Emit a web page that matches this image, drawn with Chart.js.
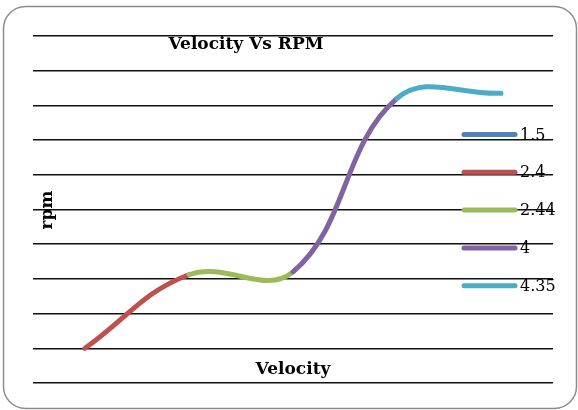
<!DOCTYPE html>
<html>
<head>
<meta charset="utf-8">
<script src="https://cdn.jsdelivr.net/npm/chart.js@4"></script>
<style>
  html, body { margin: 0; padding: 0; background: #fff; }
  #wrap { width: 578px; height: 410px; }
</style>
</head>
<body>
<div id="wrap"><canvas id="myChart" width="578" height="410"></canvas></div>
<script>
// velocity categories (shown in legend) and rpm values in gridline units
const categories = ['1.5', '2.4', '2.44', '4', '4.35'];
const rpmValues = [1.0, 3.12, 3.2, 8.2, 8.35];
const pointColors = ['#4F81BD', '#C0504D', '#9BBB59', '#8064A2', '#4BACC6'];
const chartTitle = 'Velocity Vs RPM';
const xTitle = 'Velocity';
const yTitle = 'rpm';

const serif = '"DejaVu Serif", "Liberation Serif", serif';

// frame, titles and legend are drawn over the plot area like in the Excel original
const decorPlugin = {
    id: 'decor',
    beforeDraw(chart) {
        const ctx = chart.ctx;
        ctx.save();
        ctx.fillStyle = '#fff';
        ctx.fillRect(0, 0, chart.width, chart.height);
        ctx.strokeStyle = '#8c8c8c';
        ctx.lineWidth = 1.5;
        ctx.beginPath();
        ctx.roundRect(3.5, 6.5, 573, 402, 22);
        ctx.stroke();
        ctx.restore();
    },
    afterDraw(chart) {
        const ctx = chart.ctx;
        ctx.save();
        ctx.fillStyle = '#000';
        ctx.textBaseline = 'middle';
        ctx.textAlign = 'center';
        ctx.font = 'bold 17px ' + serif;
        ctx.fillText(chartTitle, 246, 45);
        ctx.fillText(xTitle, 293, 370);
        ctx.save();
        ctx.translate(48, 210);
        ctx.rotate(-Math.PI / 2);
        ctx.fillText(yTitle, 0, 0);
        ctx.restore();

        // legend
        ctx.textAlign = 'left';
        ctx.font = '16px ' + serif;
        ctx.lineCap = 'round';
        ctx.lineWidth = 5;
        categories.forEach((name, i) => {
            const y = 134.5 + i * 37.8;
            ctx.strokeStyle = pointColors[i];
            ctx.beginPath();
            ctx.moveTo(464, y);
            ctx.lineTo(515, y);
            ctx.stroke();
            ctx.fillStyle = '#000';
            ctx.fillText(name, 520, y + 1);
        });
        ctx.restore();
    }
};

new Chart(document.getElementById('myChart'), {
    type: 'line',
    data: {
        labels: categories,
        datasets: [{
            label: 'rpm',
            data: rpmValues,
            borderWidth: 5,
            borderCapStyle: 'round',
            borderJoinStyle: 'round',
            pointRadius: 0,
            tension: 0.4,
            segment: {
                borderColor: c => pointColors[c.p1DataIndex]
            }
        }]
    },
    options: {
        responsive: false,
        animation: false,
        layout: { padding: { left: 33, right: 25, top: 36, bottom: 27 } },
        plugins: {
            legend: { display: false },
            title: { display: false },
            tooltip: { enabled: false }
        },
        scales: {
            x: {
                display: false,
                offset: true
            },
            y: {
                min: 0,
                max: 10,
                ticks: { display: false, stepSize: 1 },
                border: { display: false },
                grid: { color: '#111', lineWidth: 1.5, drawTicks: false }
            }
        }
    },
    plugins: [decorPlugin]
});
</script>
</body>
</html>
